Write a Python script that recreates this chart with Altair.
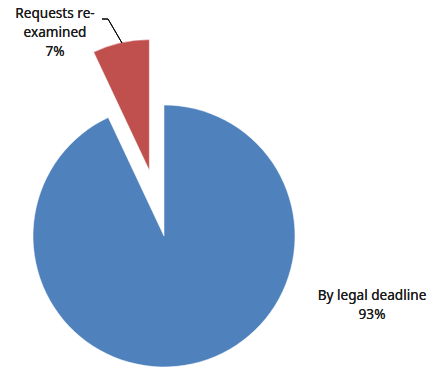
import altair as alt
import pandas as pd

categories = ["By legal deadline", "Requests re-examined"]
values = [93, 7]
label_lines = [["By legal deadline"], ["Requests re-", "examined"]]

colors = ["#4F81BD", "#C0504D"]
CX, CY, R, EXPLODE = 164, 236, 131, 67

df = pd.DataFrame({"category": categories, "value": values, "order": list(range(len(categories)))})

base = alt.Chart(df).transform_joinaggregate(
    total="sum(value)"
).transform_window(
    cum="sum(value)", sort=[alt.SortField("order")], frame=[None, 0]
).transform_calculate(
    t1="datum.cum / datum.total * 2 * PI",
    t0="(datum.cum - datum.value) / datum.total * 2 * PI",
).transform_calculate(
    mid="(datum.t0 + datum.t1) / 2",
    ex=f"datum.category == '{categories[1]}' ? {EXPLODE} : 0",
).transform_calculate(
    px=f"{CX} + datum.ex * sin(datum.mid)",
    py=f"{CY} - datum.ex * cos(datum.mid)",
)

pie = base.mark_arc(radius=R, stroke="white", strokeWidth=0.5).encode(
    x=alt.X("px:Q", scale=None, axis=None),
    y=alt.Y("py:Q", scale=None, axis=None),
    theta=alt.Theta("t0:Q", scale=None),
    theta2=alt.Theta2("t1:Q"),
    color=alt.Color("category:N", scale=alt.Scale(domain=categories, range=colors), legend=None),
)

font = "Noto Sans"
fs = 13.6

lab1 = alt.Chart(df).mark_text(font=font, fontSize=fs, fontWeight="normal", color="#1a1a1a", align="center", baseline="middle", lineHeight=19).encode(
    x=alt.value(55), y=alt.value(14),
    text=alt.value(label_lines[1] + [f"{values[1]}%"]),
)
lab0 = alt.Chart(df).mark_text(font=font, fontSize=fs, fontWeight="normal", color="#1a1a1a", align="center", baseline="middle", lineHeight=19).encode(
    x=alt.value(372), y=alt.value(296),
    text=alt.value(label_lines[0] + [f"{values[0]}%"]),
)

lead1 = alt.Chart(df).mark_rule(color="#000", strokeWidth=1).encode(
    x=alt.value(102), x2=alt.value(108), y=alt.value(19), y2=alt.value(19)
)
lead2 = alt.Chart(df).mark_rule(color="#000", strokeWidth=1).encode(
    x=alt.value(108), x2=alt.value(122), y=alt.value(19), y2=alt.value(43)
)

chart = alt.layer(pie, lead1, lead2, lab1, lab0).properties(
    width=432, height=369, padding=0, autosize="none"
).configure_view(stroke=None)

chart.save("out.html", embed_options={"renderer": "svg", "actions": False})
